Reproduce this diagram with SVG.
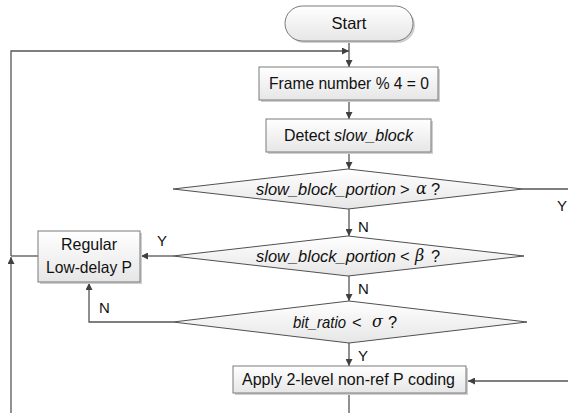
<svg xmlns="http://www.w3.org/2000/svg" width="568" height="413" viewBox="0 0 568 413">
<defs>
<linearGradient id="g" x1="0" y1="0" x2="0" y2="1">
<stop offset="0" stop-color="#ffffff"/>
<stop offset="1" stop-color="#e6e6e6"/>
</linearGradient>
<marker id="ah" viewBox="0 0 10 10" refX="10" refY="5" markerWidth="8" markerHeight="7" markerUnits="userSpaceOnUse" orient="auto">
<path d="M0,0 L10,5 L0,10 z" fill="#404040"/>
</marker>
<style>
.box{fill:url(#g);stroke:#7a7a7a;stroke-width:1}
.sh{fill:#cfcfcf;stroke:none}
.dia{fill:url(#g);stroke:#505050;stroke-width:1}
.ln{fill:none;stroke:#555;stroke-width:1.3}
.ar{marker-end:url(#ah)}
text{font-family:"Liberation Sans",Arial,sans-serif;font-size:16.5px;fill:#111}
.it{font-style:italic}
.gr{font-family:"DejaVu Serif","Liberation Serif",serif;font-style:italic;font-size:16px}
.lb{font-size:15px}
</style>
</defs>

<g id="connectors">
<line class="ln ar" x1="349" y1="41" x2="349" y2="67"/>
<polyline class="ln" points="38,256 11,256"/>
<polyline class="ln ar" points="11,256 11,51 349,51"/>
<line class="ln ar" x1="11" y1="413" x2="11" y2="257"/>
<line class="ln ar" x1="349" y1="100" x2="349" y2="119"/>
<line class="ln ar" x1="349" y1="152" x2="349" y2="169"/>
<line class="ln ar" x1="349" y1="209" x2="349" y2="236"/>
<line class="ln ar" x1="349" y1="276" x2="349" y2="301"/>
<line class="ln ar" x1="349" y1="343" x2="349" y2="366"/>
<line class="ln" x1="349" y1="393" x2="349" y2="413"/>
<line class="ln" x1="523" y1="189" x2="568" y2="189"/>
<line class="ln ar" x1="568" y1="381" x2="468" y2="381"/>
<line class="ln ar" x1="173" y1="256" x2="141" y2="256"/>
<polyline class="ln ar" points="173,322 89,322 89,283"/>
<text class="lb" x="557" y="211">Y</text>
<text class="lb" x="358" y="232">N</text>
<text class="lb" x="157" y="246">Y</text>
<text class="lb" x="358" y="294">N</text>
<text class="lb" x="358" y="361">Y</text>
<text class="lb" x="99" y="313">N</text>
</g>

<g id="start">
<rect class="sh" x="287" y="8" width="128" height="35" rx="17.5"/>
<rect class="box" x="285" y="6" width="128" height="35" rx="17.5"/>
<text x="349" y="29" text-anchor="middle">Start</text>
</g>

<g id="frame">
<rect class="sh" x="261" y="69" width="179" height="33"/>
<rect class="box" x="259" y="67" width="179" height="33"/>
<text x="269" y="89" textLength="160" lengthAdjust="spacingAndGlyphs">Frame number % 4 = 0</text>
</g>

<g id="detect">
<rect class="sh" x="268" y="121" width="165" height="33"/>
<rect class="box" x="266" y="119" width="165" height="33"/>
<text x="284" y="141" textLength="46" lengthAdjust="spacingAndGlyphs">Detect</text>
<text class="it" x="334" y="141" textLength="79" lengthAdjust="spacingAndGlyphs">slow_block</text>
</g>

<g id="decision1">
<polygon class="dia" points="173,189 348,169 523,189 348,209"/>
<text class="it" x="256" y="195" textLength="140" lengthAdjust="spacingAndGlyphs">slow_block_portion</text>
<text x="400" y="195">&gt;</text>
<text class="gr" x="416" y="194">α</text>
<text x="431" y="195">?</text>
</g>

<g id="decision2">
<polygon class="dia" points="173,256 348,236 524,256 348,276"/>
<text class="it" x="256" y="262" textLength="140" lengthAdjust="spacingAndGlyphs">slow_block_portion</text>
<text x="400" y="262">&lt;</text>
<text class="gr" x="415" y="261">β</text>
<text x="431" y="262">?</text>
</g>

<g id="regular">
<rect class="sh" x="40" y="233" width="102" height="51"/>
<rect class="box" x="38" y="231" width="102" height="51"/>
<text x="89" y="250" text-anchor="middle" textLength="56" lengthAdjust="spacingAndGlyphs">Regular</text>
<text x="89" y="273" text-anchor="middle" textLength="86" lengthAdjust="spacingAndGlyphs">Low-delay P</text>
</g>

<g id="decision3">
<polygon class="dia" points="173,322 349,301 527,322 349,343"/>
<text class="it" x="293" y="328" textLength="53" lengthAdjust="spacingAndGlyphs">bit_ratio</text>
<text x="352" y="328">&lt;</text>
<text class="gr" x="372" y="327">σ</text>
<text x="388" y="328">?</text>
</g>

<g id="apply">
<rect class="sh" x="235" y="368" width="233" height="27"/>
<rect class="box" x="233" y="366" width="233" height="27"/>
<text x="242" y="385" textLength="213" lengthAdjust="spacingAndGlyphs">Apply 2-level non-ref P coding</text>
</g>
</svg>
